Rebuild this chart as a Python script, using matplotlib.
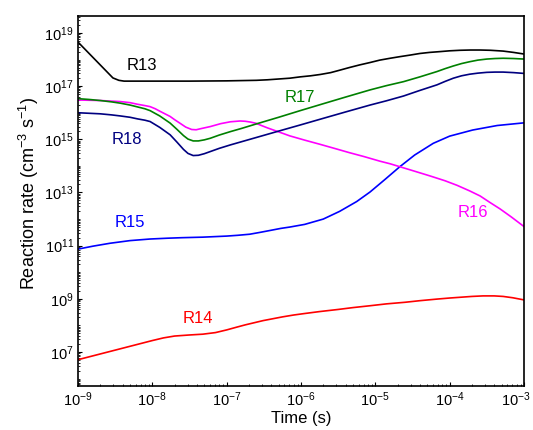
import numpy as np
import matplotlib
matplotlib.use("Agg")
import matplotlib.pyplot as plt
from matplotlib.ticker import FixedLocator, LogLocator, NullFormatter
from matplotlib.transforms import ScaledTranslation

plt.rcParams['font.family'] = ['Liberation Sans', 'DejaVu Sans']
plt.rcParams['mathtext.fontset'] = 'custom'
plt.rcParams['mathtext.rm'] = 'Liberation Sans'
plt.rcParams['mathtext.it'] = 'Liberation Sans:italic'
plt.rcParams['mathtext.bf'] = 'Liberation Sans:bold'
plt.rcParams['mathtext.default'] = 'regular'

# log10(time / s) and log10(rate / cm^-3 s^-1) for each reaction
r13_logt = [-9.0, -8.53, -8.45, -8.38, -8.0, -7.5, -7.0, -6.6, -6.45, -6.3, -6.15, -6.01,
            -5.87, -5.74, -5.6, -5.48, -5.35, -5.21, -5.07, -4.94, -4.8, -4.67, -4.53,
            -4.40, -4.27, -4.13, -4.0, -3.86, -3.72, -3.59, -3.45, -3.28, -3.14, -3.0]
r13_logr = [18.66, 17.31, 17.22, 17.19, 17.19, 17.19, 17.20, 17.22, 17.24, 17.27, 17.30, 17.35,
            17.39, 17.44, 17.51, 17.60, 17.70, 17.80, 17.89, 17.98, 18.05, 18.11, 18.17,
            18.23, 18.27, 18.30, 18.33, 18.35, 18.36, 18.36, 18.35, 18.32, 18.27, 18.21]

r14_logt = [-9.0, -8.75, -8.5, -8.25, -8.0, -7.85, -7.7, -7.5, -7.32, -7.15, -7.0, -6.87,
            -6.75, -6.63, -6.51, -6.38, -6.25, -6.1, -5.97, -5.75, -5.5, -5.3, -5.07,
            -4.85, -4.6, -4.4, -4.17, -4.0, -3.85, -3.7, -3.55, -3.4, -3.28, -3.15, -3.0]
r14_logr = [6.71, 6.89, 7.07, 7.25, 7.43, 7.53, 7.60, 7.64, 7.67, 7.73, 7.83, 7.93,
            8.02, 8.10, 8.18, 8.25, 8.32, 8.39, 8.44, 8.52, 8.60, 8.67, 8.74,
            8.81, 8.87, 8.93, 8.99, 9.03, 9.06, 9.09, 9.11, 9.11, 9.09, 9.04, 8.96]

r15_logt = [-9.0, -8.8, -8.57, -8.3, -8.03, -7.8, -7.6, -7.32, -7.0, -6.85, -6.69, -6.55,
            -6.4, -6.27, -6.15, -5.95, -5.70, -5.48, -5.25, -5.07, -4.87, -4.67, -4.47,
            -4.22, -4.0, -3.69, -3.36, -3.0]
r15_logr = [10.87, 10.98, 11.09, 11.19, 11.25, 11.28, 11.30, 11.32, 11.36, 11.39, 11.43, 11.50,
            11.58, 11.65, 11.70, 11.80, 12.00, 12.29, 12.66, 13.02, 13.49, 13.97, 14.41,
            14.85, 15.12, 15.35, 15.52, 15.62]

r16_logt = [-9.0, -8.7, -8.43, -8.3, -8.2, -8.1, -8.03, -7.96, -7.90, -7.83, -7.76, -7.7,
            -7.63, -7.55, -7.47, -7.41, -7.35, -7.22, -7.08, -6.95, -6.82, -6.75, -6.68,
            -6.6, -6.55, -6.45, -6.35, -6.25, -6.15, -5.95, -5.74, -5.55, -5.35, -5.15,
            -4.94, -4.8, -4.67, -4.47, -4.26, -4.06, -3.90, -3.73, -3.59, -3.46, -3.32,
            -3.17, -3.0]
r16_logr = [16.48, 16.46, 16.42, 16.38, 16.32, 16.27, 16.23, 16.15, 16.06, 15.96, 15.86, 15.74,
            15.61, 15.46, 15.37, 15.36, 15.40, 15.48, 15.59, 15.66, 15.69, 15.68, 15.65,
            15.60, 15.54, 15.43, 15.33, 15.23, 15.13, 14.97, 14.81, 14.66, 14.50, 14.35,
            14.18, 14.08, 13.97, 13.80, 13.62, 13.44, 13.27, 13.06, 12.87, 12.63, 12.38,
            12.08, 11.72]

r17_logt = [-9.0, -8.85, -8.7, -8.55, -8.43, -8.3, -8.2, -8.1, -8.03, -7.9, -7.76, -7.67,
            -7.58, -7.52, -7.45, -7.38, -7.3, -7.22, -7.1, -6.95, -6.8, -6.6, -6.3, -6.01,
            -5.7, -5.4, -5.07, -4.85, -4.62, -4.4, -4.17, -4.06, -3.95, -3.84, -3.73,
            -3.62, -3.50, -3.39, -3.28, -3.14, -3.0]
r17_logr = [16.53, 16.50, 16.46, 16.41, 16.36, 16.29, 16.22, 16.15, 16.08, 15.88, 15.61, 15.38,
            15.14, 15.01, 14.94, 14.94, 14.98, 15.04, 15.16, 15.29, 15.41, 15.58, 15.83, 16.08,
            16.34, 16.59, 16.86, 17.02, 17.17, 17.35, 17.55, 17.66, 17.76, 17.85, 17.92,
            17.98, 18.02, 18.04, 18.05, 18.04, 18.02]

r18_logt = [-9.0, -8.85, -8.7, -8.55, -8.43, -8.3, -8.2, -8.1, -8.03, -7.9, -7.76, -7.67,
            -7.58, -7.52, -7.45, -7.38, -7.3, -7.22, -7.1, -6.95, -6.8, -6.6, -6.3, -6.01,
            -5.7, -5.4, -5.07, -4.85, -4.62, -4.4, -4.17, -4.06, -3.95, -3.84, -3.73,
            -3.62, -3.50, -3.39, -3.28, -3.14, -3.0]
r18_logr = [16.00, 15.98, 15.96, 15.92, 15.88, 15.83, 15.77, 15.72, 15.67, 15.45, 15.17, 14.90,
            14.62, 14.47, 14.39, 14.40, 14.46, 14.54, 14.66, 14.79, 14.91, 15.07, 15.31, 15.54,
            15.79, 16.03, 16.29, 16.45, 16.63, 16.84, 17.05, 17.18, 17.30, 17.39, 17.45,
            17.49, 17.52, 17.53, 17.53, 17.51, 17.48]

names = ["R13", "R14", "R15", "R16", "R17", "R18"]
colors = ["black", "#ff0000", "#0000ff", "magenta", "green", "navy"]
# label anchor points in (log10 time, log10 rate)
label_logt = [-8.14, -7.39, -8.30, -3.69, -6.01, -8.34]
label_logr = [17.76, 8.25, 11.89, 12.23, 16.56, 14.98]

curves = [(r13_logt, r13_logr), (r14_logt, r14_logr), (r15_logt, r15_logr),
          (r16_logt, r16_logr), (r17_logt, r17_logr), (r18_logt, r18_logr)]

fig = plt.figure(figsize=(5.33, 4.30), dpi=100)
ax = fig.add_axes([0.1463, 0.1023, 0.8367, 0.8605])

for name, (lt, lr), color, tx, ty in zip(names, curves, colors, label_logt, label_logr):
    ax.plot(10.0 ** np.array(lt), 10.0 ** np.array(lr), color=color, lw=1.2,
            solid_joinstyle="round")
    ax.text(10.0 ** tx, 10.0 ** ty, name, color=color, fontsize=12,
            ha="center", va="center")

ax.set_xscale("log")
ax.set_yscale("log")
ax.set_xlim(1e-9, 1e-3)
ax.set_ylim(10 ** 5.72, 10 ** 19.64)

ax.xaxis.set_major_locator(FixedLocator([10.0 ** k for k in range(-9, -2)]))
ax.xaxis.set_minor_locator(LogLocator(base=10, subs=np.arange(2, 10), numticks=20))
ax.yaxis.set_major_locator(FixedLocator([10.0 ** k for k in range(7, 20, 2)]))
ax.yaxis.set_minor_locator(LogLocator(base=10, subs=np.arange(1, 10), numticks=40))
ax.xaxis.set_minor_formatter(NullFormatter())
ax.yaxis.set_minor_formatter(NullFormatter())

ax.tick_params(which="major", direction="in", length=3, width=0.8, labelsize=10.5, pad=3)
ax.tick_params(which="minor", direction="in", length=1.5, width=0.6)
for sp in ax.spines.values():
    sp.set_linewidth(1.2)

ax.set_xlabel("Time (s)", fontsize=12)
ax.set_ylabel("Reaction rate (cm$^{-3}$ s$^{-1}$)", fontsize=13)
ax.xaxis.set_label_coords(0.5, -0.068)
ax.yaxis.set_label_coords(-0.083, 0.52)

# keep the last time label inside the figure
fig.canvas.draw()
last = ax.xaxis.get_major_ticks()[-1].label1
last.set_transform(last.get_transform() + ScaledTranslation(-6 / 72, 0, fig.dpi_scale_trans))

fig.savefig("out.png", dpi=100)
